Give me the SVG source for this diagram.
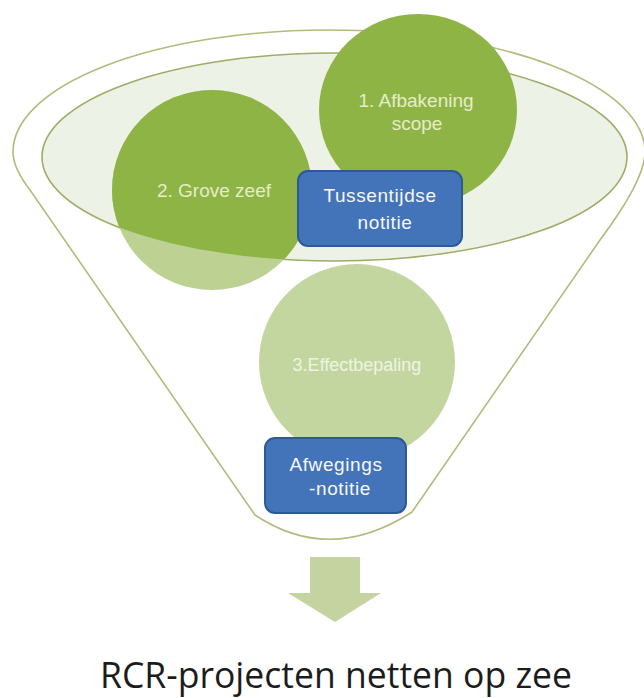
<svg xmlns="http://www.w3.org/2000/svg" width="644" height="698" viewBox="0 0 644 698">
<style>
.lbl{font-family:"Liberation Sans",Arial,sans-serif;font-size:19px;text-anchor:middle}
.ctext{fill:#e4edc9}
.btext{fill:#f6f8fc;letter-spacing:0.6px}
.box{fill:#4374ba;stroke:#2d5a96;stroke-width:2}
.dark{fill:#8fb446}
.title{font-family:"Open Sans","Liberation Sans",sans-serif;font-size:36px;fill:#1c1c1c;text-anchor:middle}
</style>
<defs>
<clipPath id="innerClip"><ellipse cx="334.5" cy="157" rx="292.5" ry="104"/></clipPath>
</defs>
<rect width="644" height="698" fill="#ffffff"/>
<g id="funnel">
<path d="M13,152 A316,122 0 0 1 645,152 Q645,180 600,240 L412,512 Q330,565 255,515 L30,190 Q13,168 13,152 Z" fill="#ffffff" stroke="#b3ba7c" stroke-width="1.6"/>
<ellipse cx="334.5" cy="157" rx="292.5" ry="104" fill="#edf2e6" stroke="#9eac66" stroke-width="1.6"/>
</g>
<g id="node-grove-zeef">
<circle cx="212" cy="190" r="100" fill="#bcd192"/>
<circle cx="212" cy="190" r="100" class="dark" clip-path="url(#innerClip)"/>
<text class="lbl ctext" x="214" y="197">2. Grove zeef</text>
</g>
<g id="node-afbakening">
<ellipse cx="418" cy="110" rx="99" ry="96" class="dark"/>
<text class="lbl ctext" x="416" y="107">1. Afbakening</text>
<text class="lbl ctext" x="417" y="130">scope</text>
</g>
<g id="node-effectbepaling">
<circle cx="357" cy="362" r="98" fill="#c4d69f"/>
<text class="lbl" x="357" y="371" style="font-size:18px;fill:#eef4e2">3.Effectbepaling</text>
</g>
<g id="node-tussentijdse">
<rect class="box" x="298" y="171" width="164" height="75" rx="10"/>
<text class="lbl btext" x="380" y="202">Tussentijdse</text>
<text class="lbl btext" x="385" y="229">notitie</text>
</g>
<g id="node-afwegings">
<rect class="box" x="265" y="438" width="141" height="75" rx="10"/>
<text class="lbl btext" x="336" y="471">Afwegings</text>
<text class="lbl btext" x="340" y="495">-notitie</text>
</g>
<g id="connectors">
<path d="M310,557 L360,557 L360,593 L381,593 L335,622 L288,593 L310,593 Z" fill="#c4d3a0"/>
</g>
<g id="node-result">
<text class="title" x="336" y="688" textLength="472" lengthAdjust="spacingAndGlyphs">RCR-projecten netten op zee</text>
</g>
</svg>
